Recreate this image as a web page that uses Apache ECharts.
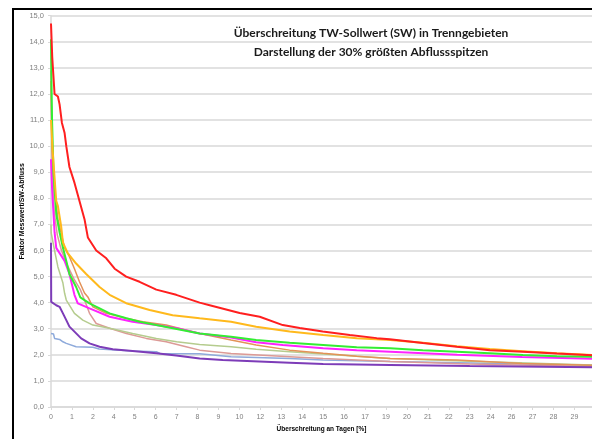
<!DOCTYPE html>
<html>
<head>
<meta charset="utf-8">
<script src="https://cdn.jsdelivr.net/npm/echarts@6/dist/echarts.min.js"></script>
<style>
  html, body { margin: 0; padding: 0; background: #fff; }
  #chart { width: 592px; height: 439px; }
</style>
</head>
<body>
<div id="chart"></div>
<script>
// x-Achse: Beschriftungen je Teilstrich (Excel-Kategorieachse, gerundet)
const tickLabels = ['0', '1', '2', '4', '5', '6', '7', '8', '9', '10', '12', '13', '14',
  '15', '16', '17', '19', '20', '21', '22', '23', '24', '26', '27', '28', '29'];

// Kurven: [Position auf der x-Achse (Teilstriche), Faktor Messwert/SW]
const rot = [[0, 14.7], [0.06, 13.4], [0.17, 12.0], [0.33, 11.9], [0.41, 11.6], [0.52, 10.9],
  [0.65, 10.5], [0.73, 10.0], [0.88, 9.2], [1.12, 8.6], [1.36, 7.9], [1.6, 7.2], [1.76, 6.5],
  [2.16, 6.0], [2.64, 5.7], [3.04, 5.3], [3.59, 5.0], [4.23, 4.8], [5.03, 4.5], [5.98, 4.3],
  [7.1, 4.0], [7.58, 3.9], [9.01, 3.6], [9.97, 3.46], [11.07, 3.14], [11.88, 3.03],
  [12.98, 2.89], [14.27, 2.76], [15.56, 2.64], [16.18, 2.6], [17.76, 2.45], [19.38, 2.31],
  [20.96, 2.18], [22.54, 2.12], [24.16, 2.05], [25.84, 1.98]];
const orange = [[0, 11.0], [0.08, 9.8], [0.25, 7.9], [0.33, 7.7], [0.49, 6.9], [0.57, 6.3],
  [0.8, 5.9], [1.2, 5.5], [1.68, 5.1], [2.32, 4.6], [2.8, 4.3], [3.59, 3.98], [4.71, 3.72],
  [5.81, 3.52], [7.1, 3.4], [8.6, 3.27], [9.8, 3.08], [11.4, 2.89], [13.0, 2.76], [14.6, 2.64],
  [16.2, 2.57], [17.76, 2.46], [19.38, 2.33], [20.96, 2.22], [22.54, 2.14], [24.16, 2.06],
  [25.84, 1.99]];
const gruen = [[0, 14.1], [0.02, 12.6], [0.05, 11.0], [0.12, 9.0], [0.25, 7.4], [0.41, 6.7],
  [0.57, 6.1], [0.73, 5.6], [0.88, 5.1], [1.2, 4.6], [1.4, 4.2], [1.84, 3.97], [2.32, 3.78],
  [2.8, 3.59], [3.6, 3.4], [4.23, 3.27], [5.03, 3.14], [5.82, 3.02], [7.1, 2.82], [8.6, 2.69],
  [9.8, 2.57], [11.4, 2.46], [13.0, 2.38], [14.6, 2.29], [16.2, 2.25], [17.76, 2.18],
  [19.38, 2.12], [20.96, 2.06], [22.54, 1.99], [24.16, 1.95], [25.84, 1.93]];
const magenta = [[0, 9.5], [0.05, 8.4], [0.17, 6.7], [0.25, 6.1], [0.41, 5.9], [0.65, 5.6],
  [0.88, 5.1], [1.12, 4.3], [1.28, 3.97], [1.84, 3.78], [2.8, 3.46], [3.9, 3.27], [5.03, 3.14],
  [6.0, 3.02], [7.1, 2.82], [8.6, 2.66], [9.8, 2.48], [11.07, 2.38], [13.0, 2.25], [14.6, 2.18],
  [16.2, 2.12], [19.4, 2.0], [22.5, 1.92], [25.84, 1.85]];
const braun = [[0, 12.5], [0.05, 10.0], [0.15, 8.5], [0.33, 7.2], [0.65, 6.1], [0.88, 5.76],
  [1.12, 5.3], [1.36, 4.8], [1.6, 4.37], [1.76, 4.22], [2.0, 3.84], [2.64, 3.59], [3.59, 3.4],
  [4.39, 3.27], [5.5, 3.14], [7.1, 2.82], [8.6, 2.57], [9.8, 2.38], [11.4, 2.18], [13.0, 2.06],
  [14.6, 1.95], [16.2, 1.86], [19.4, 1.8], [22.5, 1.67], [25.84, 1.6]];
const oliv = [[0, 7.0], [0.01, 6.67], [0.17, 6.0], [0.33, 5.37], [0.57, 4.75], [0.65, 4.36],
  [0.73, 4.1], [1.12, 3.59], [1.52, 3.33], [2.0, 3.14], [2.8, 3.02], [3.9, 2.82], [5.03, 2.63],
  [6.0, 2.5], [7.1, 2.4], [8.6, 2.31], [9.8, 2.21], [11.4, 2.12], [13.0, 2.03], [14.6, 1.95],
  [16.2, 1.86], [20.0, 1.75], [25.84, 1.61]];
const rosa = [[0, 12.9], [0.05, 9.5], [0.15, 7.5], [0.3, 6.6], [0.5, 6.0], [0.8, 5.4],
  [1.1, 4.9], [1.4, 4.5], [1.6, 4.1], [1.84, 3.59], [2.16, 3.2], [2.8, 3.02], [3.6, 2.82],
  [4.55, 2.63], [5.5, 2.5], [6.45, 2.31], [7.1, 2.18], [8.6, 2.05], [11.4, 1.93], [13.0, 1.86],
  [16.2, 1.74], [20.0, 1.65], [25.84, 1.55]];
const blau = [[0, 2.82], [0.12, 2.8], [0.17, 2.63], [0.41, 2.59], [0.57, 2.5], [0.73, 2.44],
  [1.2, 2.31], [2.0, 2.29], [2.3, 2.22], [3.9, 2.15], [5.03, 2.12], [5.2, 2.05], [7.1, 2.04],
  [8.6, 1.93], [11.4, 1.86], [13.0, 1.8], [16.2, 1.74], [25.84, 1.6]];
const lila = [[0, 6.3], [0.01, 4.03], [0.25, 3.9], [0.41, 3.84], [0.57, 3.59], [0.73, 3.33],
  [0.88, 3.08], [1.12, 2.89], [1.44, 2.63], [1.84, 2.44], [2.32, 2.31], [2.95, 2.21],
  [3.9, 2.15], [5.03, 2.06], [5.98, 1.97], [7.1, 1.86], [8.2, 1.8], [11.4, 1.7], [13.0, 1.65],
  [16.2, 1.61], [20.0, 1.57], [25.84, 1.52]];

const kurven = [
  { name: 'Gebiet 1', data: blau, color: '#8eaadb', width: 1.5 },
  { name: 'Gebiet 2', data: rosa, color: '#dc9a96', width: 1.5 },
  { name: 'Gebiet 3', data: oliv, color: '#b5cc8e', width: 1.5 },
  { name: 'Gebiet 4', data: braun, color: '#e39257', width: 1.5 },
  { name: 'Gebiet 5', data: lila, color: '#7d3cb8', width: 2 },
  { name: 'Gebiet 6', data: magenta, color: '#ff22ff', width: 2 },
  { name: 'Gebiet 7', data: gruen, color: '#33ee33', width: 2 },
  { name: 'Gebiet 8', data: orange, color: '#ffb91c', width: 2 },
  { name: 'Gebiet 9', data: rot, color: '#ff1f1f', width: 2 },
];

const chart = echarts.init(document.getElementById('chart'));

const option = {
  backgroundColor: '#fff',
  animation: false,
  title: {
    text: 'Überschreitung TW-Sollwert (SW) in Trenngebieten\nDarstellung der 30% größten Abflussspitzen',
    left: 366,
    top: 19,
    textAlign: 'center',
    textStyle: {
      fontFamily: 'Lato',
      fontSize: 12,
      fontWeight: 'bold',
      color: '#1a1a1a',
      lineHeight: 19,
    },
  },
  graphic: [
    {
      type: 'rect',
      shape: { x: 13, y: 9, width: 640, height: 500 },
      style: { fill: 'none', stroke: '#000', lineWidth: 2 },
      silent: true,
    },
  ],
  grid: { left: 51, right: 0, top: 15.7, bottom: 32 },
  xAxis: {
    type: 'value',
    min: 0,
    max: 25.84,
    interval: 1,
    name: 'Überschreitung an Tagen [%]',
    nameLocation: 'middle',
    nameGap: 19,
    nameMoveOverlap: false,
    nameTextStyle: { fontFamily: 'Liberation Sans', fontSize: 6.5, fontWeight: 'bold', color: '#000' },
    axisLine: { lineStyle: { color: '#d9d9d9', width: 1.5 } },
    axisTick: { show: true, length: 3, lineStyle: { color: '#d9d9d9' } },
    splitLine: { show: false },
    axisLabel: {
      showMaxLabel: false,
      fontFamily: 'Liberation Sans',
      fontSize: 7,
      color: '#7f7f7f',
      margin: 7,
      formatter: (v) => (Number.isInteger(v) && tickLabels[v] !== undefined ? tickLabels[v] : ''),
    },
  },
  yAxis: {
    type: 'value',
    min: 0,
    max: 15,
    interval: 1,
    name: 'Faktor Messwert/SW-Abfluss',
    nameLocation: 'middle',
    nameRotate: 90,
    nameGap: 25,
    nameMoveOverlap: false,
    nameTextStyle: { fontFamily: 'Liberation Sans', fontSize: 7, fontWeight: 'bold', color: '#000' },
    axisLine: { show: true, lineStyle: { color: '#d9d9d9', width: 1.5 } },
    axisTick: { show: true, length: 3, lineStyle: { color: '#d9d9d9' } },
    splitLine: { show: true, lineStyle: { color: '#d9d9d9', width: 1.5 } },
    axisLabel: {
      fontFamily: 'Liberation Sans',
      fontSize: 7.5,
      color: '#7f7f7f',
      margin: 7,
      formatter: (v) => v.toFixed(1).replace('.', ','),
    },
  },
  series: kurven.map((k) => ({
    name: k.name,
    type: 'line',
    data: k.data,
    symbol: 'none',
    smooth: false,
    lineStyle: { color: k.color, width: k.width },
    itemStyle: { color: k.color },
  })),
};

chart.setOption(option);
</script>
</body>
</html>
